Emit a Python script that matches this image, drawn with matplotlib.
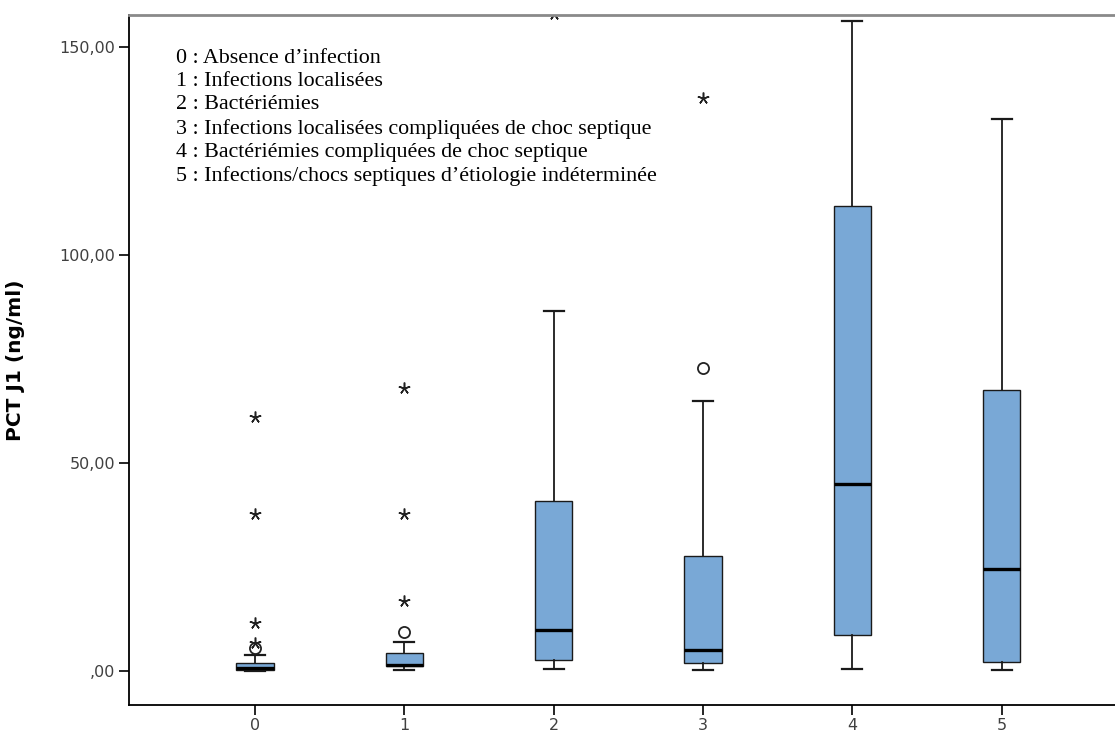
import matplotlib
matplotlib.use("Agg")
import matplotlib.pyplot as plt
import numpy as np

# box statistics (PCT J1, ng/ml)
groups = ['0', '1', '2', '3', '4', '5']
whislo = [0.0, 0.2, 0.5, 0.2, 0.5, 0.2]
q1 = [0.2, 1.2, 2.6, 1.9, 8.6, 2.2]
med = [0.6, 1.4, 9.9, 5.0, 45.0, 24.5]
q3 = [1.9, 4.3, 40.9, 27.6, 111.7, 67.5]
whishi = [3.8, 7.0, 86.5, 64.9, 156.3, 132.7]
# circles = outliers, stars = extreme values
outliers = [[5.5], [9.4], [], [72.8], [], []]
extremes = [[6.7, 11.5, 37.7, 61.0], [16.8, 37.7, 68.0], [158.0], [137.7], [], []]

ytick_vals = [0, 50, 100, 150]
ytick_labels = [',00', '50,00', '100,00', '150,00']

legend_lines = [
    "0 : Absence d\u2019infection",
    "1 : Infections localisées",
    "2 : Bactériémies",
    "3 : Infections localisées compliquées de choc septique",
    "4 : Bactériémies compliquées de choc septique",
    "5 : Infections/chocs septiques d\u2019étiologie indéterminée",
]

fig = plt.figure(figsize=(11.15, 7.33), dpi=100)
ax = fig.add_axes([129/1115, 28/733, 986/1115, 690/733])

stats = []
for i in range(len(groups)):
    stats.append(dict(whislo=whislo[i], q1=q1[i], med=med[i], q3=q3[i],
                      whishi=whishi[i], fliers=[], label=groups[i]))

pos = np.arange(len(groups))
ax.bxp(stats, positions=pos, widths=0.25, capwidths=0.134, patch_artist=True,
       showfliers=False,
       boxprops=dict(facecolor='#79a8d6', edgecolor='#1a1a1a', linewidth=1.0),
       medianprops=dict(color='black', linewidth=2.4),
       whiskerprops=dict(color='#1a1a1a', linewidth=1.3),
       capprops=dict(color='#1a1a1a', linewidth=1.6))

for i in range(len(groups)):
    if outliers[i]:
        ax.plot([pos[i]] * len(outliers[i]), outliers[i], linestyle='none',
                marker='o', markersize=8, markerfacecolor='none',
                markeredgecolor='#222222', markeredgewidth=1.3)
    if extremes[i]:
        ax.plot([pos[i]] * len(extremes[i]), extremes[i], linestyle='none',
                marker=(5, 2), markersize=8.5, markeredgecolor='#222222',
                markeredgewidth=1.1)

ax.set_xlim(-0.844, 5.76)
ax.set_ylim(-8.2, 157.7)
ax.set_xticks(pos)
ax.set_xticklabels(groups)
ax.set_yticks(ytick_vals)
ax.set_yticklabels(ytick_labels)
ax.tick_params(axis='both', length=7, width=1.2, colors='black',
               labelcolor='#404040', labelsize=11.5)
ax.tick_params(axis='x', pad=2)
ax.tick_params(axis='y', pad=3)

ax.spines['right'].set_visible(False)
ax.spines['top'].set_color('#8a8a8a')
ax.spines['top'].set_linewidth(2)
ax.spines['left'].set_linewidth(1.3)
ax.spines['bottom'].set_linewidth(1.3)

ax.set_ylabel('PCT J1 (ng/ml)', fontsize=14.5, fontweight='bold', color='black')
ax.yaxis.set_label_coords(-0.105, 0.5)

ax.text(0.0477, 0.951, "\n".join(legend_lines), transform=ax.transAxes,
        family='Liberation Serif', fontsize=15.8, va='top', ha='left',
        linespacing=1.3, color='black')

fig.savefig('out.png', dpi=100)
